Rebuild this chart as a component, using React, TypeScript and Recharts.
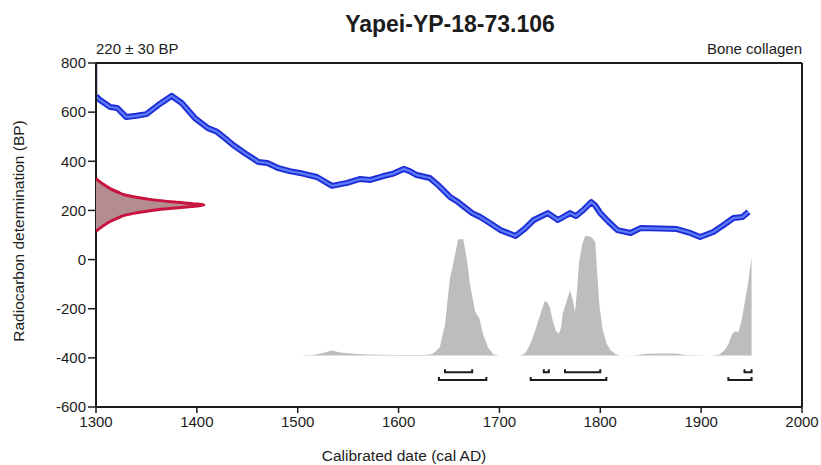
import { Area, ComposedChart, Line, Scatter, XAxis, YAxis } from 'recharts';

const FONT = '"Liberation Sans", Arial, sans-serif';
const INK = '#1c1c1c';

const yearTicks = [1300, 1400, 1500, 1600, 1700, 1800, 1900, 2000];
const bpTicks = [-600, -400, -200, 0, 200, 400, 600, 800];

// calibration curve (cal AD vs radiocarbon BP)
const curveYears = [
  1300, 1304, 1314, 1321, 1330, 1340, 1350, 1362, 1375, 1385, 1398, 1411, 1420, 1430, 1436, 1448, 1461,
  1470, 1481, 1492, 1505, 1519, 1534, 1549, 1562, 1572, 1585, 1595, 1605, 1611, 1618, 1631, 1640, 1651, 1659,
  1673, 1681, 1690, 1701, 1716, 1725, 1734, 1748, 1758, 1770, 1776, 1784, 1791, 1795, 1800, 1808, 1817, 1830,
  1840, 1860, 1876, 1888, 1899, 1912, 1922, 1932, 1941, 1947,
];
const curveBp = [
  665, 649, 621, 617, 580, 585, 592, 630, 666, 637, 576, 535, 520, 487, 466, 432, 397,
  393, 372, 360, 350, 336, 300, 312, 328, 324, 340, 350, 369, 360, 344, 332, 300, 255, 234,
  189, 173, 150, 120, 96, 125, 161, 189, 161, 189, 177, 205, 234, 220, 189, 155, 120, 108,
  128, 126, 124, 110, 92, 112, 140, 169, 173, 194,
];

// curve running off the top at the left edge
const edgeYears = [1300, 1300];
const edgeBp = [800, 665];

// calibrated probability (plotted above a baseline near -390)
const probYears = [
  1500, 1515, 1525, 1534, 1542, 1555, 1570, 1600, 1625, 1633, 1638, 1641, 1644, 1646, 1649, 1651, 1654, 1657,
  1659, 1664, 1666, 1668, 1671, 1676, 1680, 1684, 1689, 1694, 1700, 1720, 1724, 1727, 1731, 1735, 1740, 1745,
  1748, 1750, 1753, 1756, 1759, 1761, 1763, 1767, 1770, 1773, 1775, 1777, 1779, 1782, 1785, 1789, 1792, 1795,
  1797, 1799, 1802, 1806, 1810, 1815, 1820, 1835, 1845, 1860, 1875, 1885, 1910, 1918, 1923, 1927, 1931, 1934,
  1937, 1940, 1943, 1946, 1948, 1950,
];
const probBp = [
  -390, -388, -380, -370, -378, -383, -386, -388, -388, -385, -370, -355, -300, -266, -150, -75, -20, 40,
  82, 84, 40, -10, -104, -213, -238, -307, -360, -385, -390, -390, -385, -372, -340, -295, -230, -168,
  -178, -195, -250, -292, -300, -280, -215, -165, -124, -170, -213, -120, -10, 60, 96, 95, 88, 72,
  -60, -180, -278, -340, -368, -384, -390, -389, -383, -382, -382, -388, -390, -386, -370, -345, -300, -292,
  -296, -250, -180, -110, -50, 8,
];
const PROB_BASE = -390;

// measured date 220 ± 30 BP drawn on the y axis (width in years from 1300)
const measuredBp = [115, 125, 140, 155, 170, 180, 190, 200, 210, 218, 222, 226, 234, 244, 254, 264, 274, 289, 304, 319, 329];
const measuredWidth = [0, 3, 8, 14, 22, 28, 40, 55, 78, 100, 107, 100, 78, 55, 40, 28, 22, 14, 8, 3, 0];

// hpd ranges
const range68 = [
  [1646, 1673],
  [1744, 1749],
  [1765, 1800],
  [1943, 1950],
];
const range95 = [
  [1640, 1687],
  [1731, 1806],
  [1927, 1950],
];

const curveData = curveYears.map((year, i) => ({ year, bp: curveBp[i] }));
const edgeData = edgeYears.map((year, i) => ({ year, bp: edgeBp[i] }));
const probData = probYears.map((year, i) => ({ year, bp: probBp[i] }));
const measuredData = measuredBp.map((bp, i) => ({ year: 1300 + measuredWidth[i], bp }));

const bracket = (r: number[], line: number, top: number) => [
  { year: r[0], bp: top },
  { year: r[0], bp: line },
  { year: r[1], bp: line },
  { year: r[1], bp: top },
];

const noDot = () => <g />;

export default function App() {
  const tickStyle = { fill: INK, fontSize: 15, fontFamily: FONT };
  const axisLine = { stroke: INK, strokeWidth: 2 };
  const tickLine = { stroke: INK, strokeWidth: 1.5 };

  return (
    <div style={{ position: 'absolute', left: 0, top: 0, width: 821, height: 465, background: '#fff' }}>
      <ComposedChart width={821} height={465} margin={{ top: 63, right: 19, bottom: 28, left: 36 }}>
        <XAxis
          xAxisId="x"
          type="number"
          dataKey="year"
          domain={[1300, 2000]}
          ticks={yearTicks}
          allowDataOverflow
          height={30}
          tick={tickStyle}
          tickSize={6}
          tickMargin={3}
          axisLine={axisLine}
          tickLine={tickLine}
        />
        <XAxis
          xAxisId="top"
          orientation="top"
          type="number"
          dataKey="year"
          domain={[1300, 2000]}
          ticks={yearTicks}
          mirror
          tickFormatter={() => ''}
          tickSize={8}
          axisLine={axisLine}
          tickLine={tickLine}
        />
        <YAxis
          yAxisId="y"
          type="number"
          dataKey="bp"
          domain={[-600, 800]}
          ticks={bpTicks}
          allowDataOverflow
          width={60}
          tick={tickStyle}
          tickSize={8}
          tickMargin={2}
          axisLine={axisLine}
          tickLine={tickLine}
        />
        <YAxis
          yAxisId="r"
          orientation="right"
          type="number"
          dataKey="bp"
          domain={[-600, 800]}
          ticks={bpTicks}
          mirror
          tickFormatter={() => ''}
          tickSize={8}
          axisLine={axisLine}
          tickLine={tickLine}
        />

        <Area
          xAxisId="x"
          yAxisId="y"
          data={probData}
          dataKey="bp"
          type="linear"
          baseValue={PROB_BASE}
          stroke="none"
          fill="#bdbdbd"
          fillOpacity={1}
          isAnimationActive={false}
        />

        <Scatter
          xAxisId="x"
          yAxisId="y"
          data={measuredData}
          fill="#b38d90"
          shape={noDot}
          line={{ fill: '#b38d90', stroke: '#c8143e', strokeWidth: 3 }}
          lineJointType="monotoneY"
          isAnimationActive={false}
        />

        <Line
          xAxisId="x"
          yAxisId="y"
          data={edgeData}
          dataKey="bp"
          type="linear"
          stroke="#14147a"
          strokeWidth={2.5}
          dot={false}
          isAnimationActive={false}
        />
        <Line
          xAxisId="x"
          yAxisId="y"
          data={curveData}
          dataKey="bp"
          type="linear"
          stroke="#1e2ed6"
          strokeWidth={6}
          strokeLinejoin="round"
          dot={false}
          isAnimationActive={false}
        />
        <Line
          xAxisId="x"
          yAxisId="y"
          data={curveData}
          dataKey="bp"
          type="linear"
          stroke="#5d7cf8"
          strokeWidth={2.2}
          strokeLinejoin="round"
          dot={false}
          isAnimationActive={false}
        />

        {range68.map((r, i) => (
          <Scatter
            key={'a' + i}
            xAxisId="x"
            yAxisId="y"
            data={bracket(r, -459, -446)}
            fill={INK}
            shape={noDot}
            line={{ stroke: INK, strokeWidth: 2, fill: 'none' }}
            isAnimationActive={false}
          />
        ))}
        {range95.map((r, i) => (
          <Scatter
            key={'b' + i}
            xAxisId="x"
            yAxisId="y"
            data={bracket(r, -490, -478)}
            fill={INK}
            shape={noDot}
            line={{ stroke: INK, strokeWidth: 2, fill: 'none' }}
            isAnimationActive={false}
          />
        ))}
      </ComposedChart>

      <svg
        width={821}
        height={465}
        style={{ position: 'absolute', left: 0, top: 0, pointerEvents: 'none' }}
        fontFamily={FONT}
        fill={INK}
      >
        <text x={450} y={32} textAnchor="middle" fontSize={23} fontWeight="bold">
          Yapei-YP-18-73.106
        </text>
        <text x={96} y={54} fontSize={15}>
          220 ± 30 BP
        </text>
        <text x={802} y={54} fontSize={15} textAnchor="end">
          Bone collagen
        </text>
        <text x={404} y={461} fontSize={15.5} textAnchor="middle">
          Calibrated date (cal AD)
        </text>
        <text x={24} y={231} fontSize={15.5} textAnchor="middle" transform="rotate(-90 24 231)">
          Radiocarbon determination (BP)
        </text>
      </svg>
    </div>
  );
}
